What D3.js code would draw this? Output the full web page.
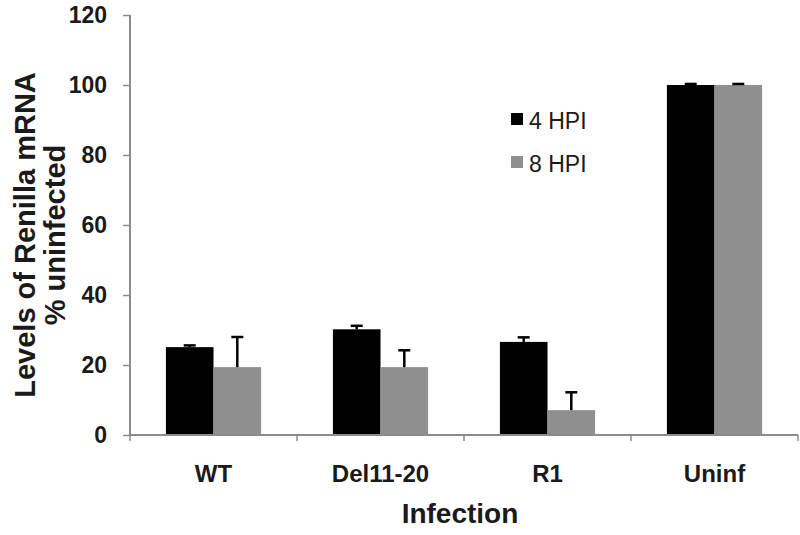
<!DOCTYPE html>
<html>
<head>
<meta charset="utf-8">
<script src="https://cdn.jsdelivr.net/npm/d3@7"></script>
<style>
  html, body { margin: 0; padding: 0; background: #fff; }
  svg { display: block; font-family: Arial, "Liberation Sans", sans-serif; }
</style>
</head>
<body>
<svg id="chart" width="800" height="535"></svg>
<script>
const categories = ["WT", "Del11-20", "R1", "Uninf"];
const seriesNames = ["4 HPI", "8 HPI"];
const values4h = [25.1, 30.2, 26.6, 100];
const errors4h = [0.5, 1.0, 1.3, 0.3];
const values8h = [19.4, 19.4, 7.1, 100];
const errors8h = [8.6, 4.8, 5.1, 0.3];
const yTicks = [0, 20, 40, 60, 80, 100, 120];
const colors = ["#000000", "#8f8f8f"];

const svg = d3.select("#chart");
const x0 = 130, x1 = 798, yTop = 15, yBot = 435;

const x = d3.scaleBand().domain(categories).range([x0, x1])
  .paddingInner(0.43).paddingOuter(0.215);
const xs = d3.scaleBand().domain(seriesNames).range([0, x.bandwidth()]);
const y = d3.scaleLinear().domain([0, 120]).range([yBot, yTop]);

const axisColor = "#8c8c8c";

const data = categories.map((c, i) => ({
  cat: c,
  vals: [
    { s: seriesNames[0], v: values4h[i], e: errors4h[i], col: colors[0] },
    { s: seriesNames[1], v: values8h[i], e: errors8h[i], col: colors[1] }
  ]
}));

const g = svg.append("g");
const groups = g.selectAll("g.grp").data(data).join("g")
  .attr("transform", d => `translate(${x(d.cat)},0)`);

groups.selectAll("rect").data(d => d.vals).join("rect")
  .attr("x", d => xs(d.s))
  .attr("width", xs.bandwidth())
  .attr("y", d => y(d.v))
  .attr("height", d => y(0) - y(d.v))
  .attr("fill", d => d.col);

// Error bars (upper only)
const eb = groups.selectAll("g.err").data(d => d.vals).join("g").attr("class", "err");
eb.append("line")
  .attr("x1", d => xs(d.s) + xs.bandwidth() / 2)
  .attr("x2", d => xs(d.s) + xs.bandwidth() / 2)
  .attr("y1", d => y(d.v))
  .attr("y2", d => y(d.v + d.e))
  .attr("stroke", "#000").attr("stroke-width", 2.5);
eb.append("line")
  .attr("x1", d => xs(d.s) + xs.bandwidth() / 2 - 6)
  .attr("x2", d => xs(d.s) + xs.bandwidth() / 2 + 6)
  .attr("y1", d => y(d.v + d.e))
  .attr("y2", d => y(d.v + d.e))
  .attr("stroke", "#000").attr("stroke-width", 2.5);

// Y axis
const yAxis = d3.axisLeft(y).tickValues(yTicks).tickSize(7).tickPadding(16);
const ya = svg.append("g").attr("transform", `translate(${x0},0)`).call(yAxis);
ya.select(".domain").attr("stroke", axisColor).attr("stroke-width", 2)
  .attr("d", `M0,${yTop}V${yBot}`);
ya.selectAll(".tick line").attr("stroke", axisColor).attr("stroke-width", 1.5);
ya.selectAll(".tick text").attr("fill", "#1a1a1a")
  .style("font-size", "23px").style("font-weight", "bold")
  .style("font-family", "Arial, 'Liberation Sans', sans-serif");

// X axis
const xa = svg.append("g").attr("transform", `translate(0,${yBot})`);
xa.append("line").attr("x1", x0).attr("x2", x1).attr("y1", 0).attr("y2", 0)
  .attr("stroke", axisColor).attr("stroke-width", 2);
const boundaries = categories.map(c => x(c) - x.step() * x.paddingOuter()).concat([x1]);
xa.selectAll("line.tk").data(boundaries).join("line").attr("class", "tk")
  .attr("x1", d => d).attr("x2", d => d).attr("y1", 0).attr("y2", 6)
  .attr("stroke", axisColor).attr("stroke-width", 1.5);
xa.selectAll("text.cat").data(categories).join("text").attr("class", "cat")
  .attr("x", d => x(d) + x.bandwidth() / 2)
  .attr("y", 47)
  .attr("text-anchor", "middle")
  .attr("fill", "#1a1a1a")
  .style("font-size", "24px").style("font-weight", "bold")
  .text(d => d);

// X title
svg.append("text")
  .attr("x", (x0 + x1) / 2 - 4).attr("y", 523)
  .attr("text-anchor", "middle").attr("fill", "#1a1a1a")
  .style("font-size", "28px").style("font-weight", "bold")
  .text("Infection");

// Y title (two lines)
const yt = svg.append("text")
  .attr("transform", "translate(0,235) rotate(-90)")
  .attr("text-anchor", "middle").attr("fill", "#1a1a1a")
  .style("font-size", "29px").style("font-weight", "bold");
yt.append("tspan").attr("x", 0).attr("y", 35).text("Levels of Renilla mRNA");
yt.append("tspan").attr("x", 0).attr("y", 65).text("% uninfected");

// Legend
const lg = svg.append("g").attr("transform", "translate(511,113)");
const li = lg.selectAll("g").data(seriesNames).join("g")
  .attr("transform", (d, i) => `translate(0,${i * 43})`);
li.append("rect").attr("width", 12).attr("height", 12)
  .attr("fill", (d, i) => colors[i]);
li.append("text").attr("x", 18).attr("y", 16)
  .attr("fill", "#1a1a1a")
  .style("font-size", "23px")
  .text(d => d);
</script>
</body>
</html>
